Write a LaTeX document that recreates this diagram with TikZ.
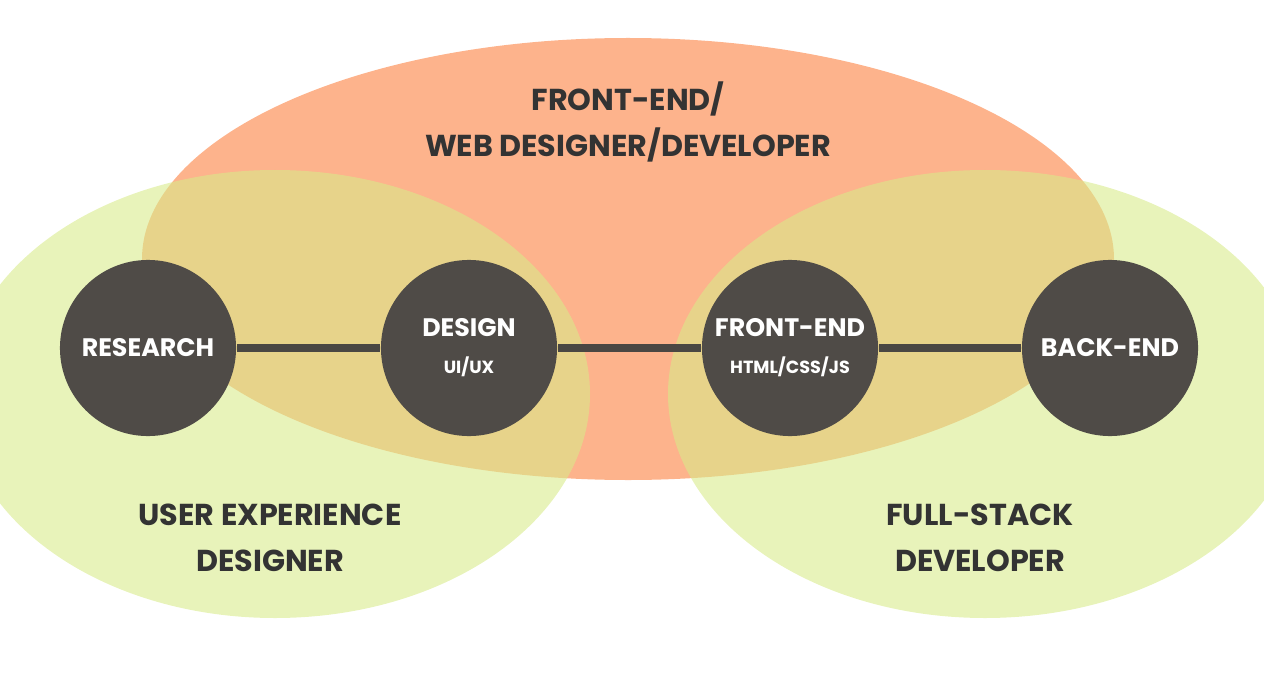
\documentclass[tikz,border=0pt]{standalone}
\usepackage{fontspec}
\setmainfont{Poppins}
\usetikzlibrary{positioning}
\definecolor{orangefill}{RGB}{253,179,140}
\definecolor{greenfill}{RGB}{216,235,138}
\definecolor{discfill}{RGB}{79,75,71}
\definecolor{linkcol}{RGB}{74,71,67}
\definecolor{textcol}{RGB}{51,51,51}
\tikzset{
  disc/.style={circle,fill=discfill,minimum size=1.76cm,inner sep=0pt,text=white,font=\bfseries\fontsize{7.2}{8.5}\selectfont,align=center},
  link/.style={linkcol,line width=2pt},
  role/.style={text=textcol,font=\bfseries\fontsize{8.6}{13}\selectfont,align=center}
}
\begin{document}
\begin{tikzpicture}[x=0.01cm,y=-0.01cm]
    \useasboundingbox (0,0) rectangle (1264,685);
    \clip (0,0) rectangle (1264,685);

    % Role areas
    \fill[orangefill] (628,259) ellipse [x radius=486,y radius=221];
    \fill[greenfill,opacity=0.59] (275,394) ellipse [x radius=315,y radius=224];
    \fill[greenfill,opacity=0.59] (985,394) ellipse [x radius=317,y radius=224];

    % Skill nodes
    \node[disc] (research) at (148,348) {RESEARCH};
    \node[disc] (design) at (469,348) {DESIGN\\[2pt]{\fontsize{5}{6}\selectfont UI/UX}};
    \node[disc] (frontend) at (790,348) {FRONT-END\\[2pt]{\fontsize{5}{6}\selectfont HTML/CSS/JS}};
    \node[disc] (backend) at (1110,348) {BACK-END};

    % Links
    \draw[link] (research) -- (design);
    \draw[link] (design) -- (frontend);
    \draw[link] (frontend) -- (backend);

    % Role labels
    \node[role] (web) at (628,122) {FRONT-END/\\WEB DESIGNER/DEVELOPER};
    \node[role] (ux) at (270,538) {USER EXPERIENCE\\DESIGNER};
    \node[role] (full) at (980,538) {FULL-STACK\\DEVELOPER};
\end{tikzpicture}
\end{document}
